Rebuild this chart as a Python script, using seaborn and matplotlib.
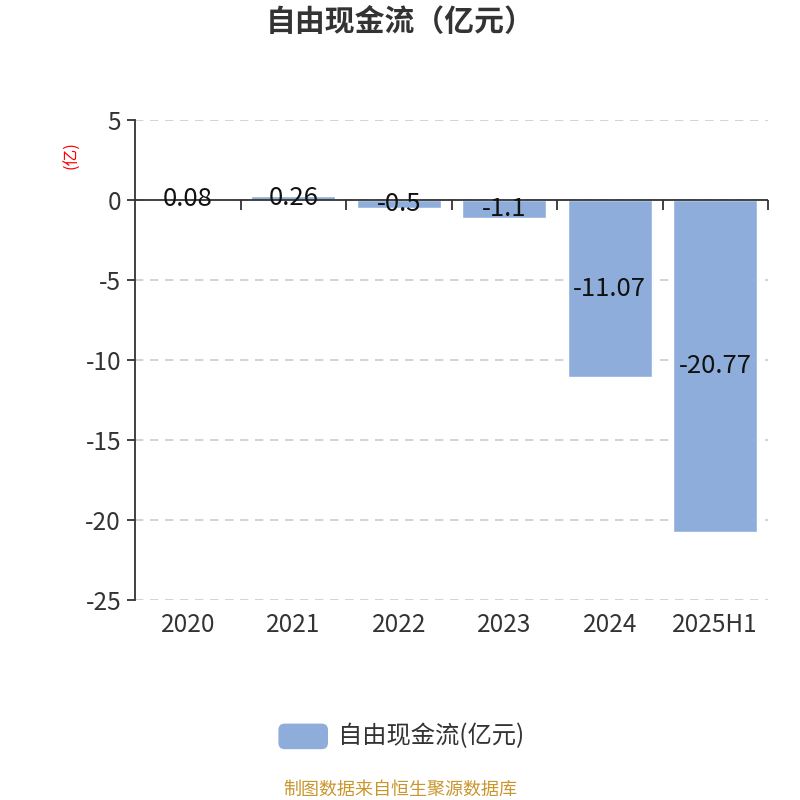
import matplotlib
matplotlib.use("Agg")
import matplotlib.pyplot as plt
import seaborn as sns
import pandas as pd
import numpy as np
from matplotlib.patches import FancyBboxPatch
from matplotlib.markers import TICKDOWN

categories = ["2020", "2021", "2022", "2023", "2024", "2025H1"]
values = [0.08, 0.26, -0.5, -1.1, -11.07, -20.77]
value_labels = ["0.08", "0.26", "-0.5", "-1.1", "-11.07", "-20.77"]
yticks = [5, 0, -5, -10, -15, -20, -25]
title = "自由现金流（亿元）"
series_name = "自由现金流(亿元)"
unit_label = "(亿)"
source = "制图数据来自恒生聚源数据库"

sns.set_theme(style="white")
plt.rcParams['font.family'] = ['Noto Sans CJK SC', 'DejaVu Sans']
plt.rcParams['axes.unicode_minus'] = False

df = pd.DataFrame({"cat": categories, "val": values})
bar_color = "#8EADDB"
text_color = "#333333"

fig = plt.figure(figsize=(8, 8), dpi=100)
ax = fig.add_axes([0.16875, 0.25, 0.79125, 0.60])
sns.barplot(data=df, x="cat", y="val", color=bar_color, saturation=1, width=0.8, ax=ax, zorder=2)

ax.set_ylim(-25, 5)
ax.set_xlim(-0.5, len(categories) - 0.5)
ax.set_yticks(yticks)
ax.set_yticklabels([str(t) for t in yticks], fontsize=17.5, color=text_color)
ax.yaxis.grid(True, linestyle=(0, (5, 4)), color="#cccccc", linewidth=1.2, zorder=0)
ax.set_axisbelow(True)
for s in ["top", "right", "bottom"]:
    ax.spines[s].set_visible(False)
ax.spines["left"].set_color(text_color)
ax.spines["left"].set_linewidth(1.3)
ax.tick_params(axis="y", direction="out", length=6, width=1.3, color=text_color, pad=4, left=True)
ax.tick_params(axis="x", length=0, labelsize=17.5, labelcolor=text_color, pad=9)
ax.set_xlabel("")
ax.set_ylabel("")

# zero axis line with boundary ticks
ax.axhline(0, color=text_color, linewidth=1.3, zorder=3)
bounds = np.arange(len(categories) + 1) - 0.5
ax.plot(bounds[1:], np.zeros(len(bounds) - 1), linestyle="none", marker=TICKDOWN,
        markersize=7, markeredgewidth=1.3, color=text_color, zorder=3, clip_on=False)

# value labels in middle of bars
for i, (v, lab) in enumerate(zip(values, value_labels)):
    ax.text(i, v / 2, lab, ha="center", va="center", fontsize=18.5, color="#111111", zorder=4)

fig.text(0.5, 0.972, title, ha="center", va="center", fontsize=21.5, fontweight="bold", color=text_color)
fig.text(0.09, 0.806, unit_label, ha="center", va="center", rotation=90, fontsize=12, color="red")

# legend
fig.patches.append(FancyBboxPatch((0.348, 0.0635), 0.062, 0.032, boxstyle="round,pad=0,rounding_size=0.008",
                                  transform=fig.transFigure, facecolor=bar_color, edgecolor="none"))
fig.text(0.422, 0.0805, series_name, ha="left", va="center", fontsize=17.5, color=text_color)
fig.text(0.5, 0.013, source, ha="center", va="center", fontsize=13, color="#C9962E")

fig.savefig("out.png", dpi=100)
